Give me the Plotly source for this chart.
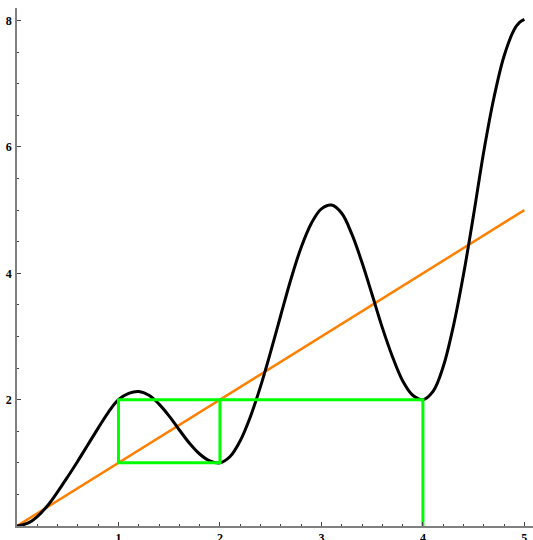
import plotly.graph_objects as go

# black curve, points
curve_x = [0.0, 0.1, 0.2, 0.3, 0.4, 0.5, 0.6, 0.7, 0.8, 0.9,
           1.0, 1.1, 1.2, 1.3, 1.4, 1.5, 1.6, 1.7, 1.8, 1.9,
           2.0, 2.1, 2.2, 2.3, 2.4, 2.5, 2.6, 2.7, 2.8, 2.9,
           3.0, 3.1, 3.2, 3.3, 3.4, 3.5, 3.6, 3.7, 3.8, 3.9,
           4.0, 4.1, 4.2, 4.3, 4.4, 4.5, 4.6, 4.7, 4.8, 4.9, 4.95, 5.0]
curve_y = [0.0, 0.04, 0.15, 0.32, 0.54, 0.78, 1.03, 1.29, 1.55, 1.80,
           2.0, 2.10, 2.13, 2.07, 1.93, 1.74, 1.52, 1.31, 1.14, 1.03,
           1.0, 1.10, 1.35, 1.73, 2.21, 2.76, 3.34, 3.91, 4.41, 4.79,
           5.02, 5.08, 4.95, 4.62, 4.17, 3.66, 3.14, 2.68, 2.30, 2.07,
           2.0, 2.13, 2.52, 3.16, 3.98, 4.93, 5.93, 6.78, 7.44, 7.86, 7.97, 8.02]

# orange diagonal y = x
diag_x = [0, 5]
diag_y = [0, 5]

# green cobweb path
web_x = [4, 4, 2, 2, 1, 1, 2]
web_y = [0, 2, 2, 1, 1, 2, 2]

x_ticks = [1, 2, 3, 4, 5]
y_ticks = [2, 4, 6, 8]

fig = go.Figure()
fig.add_trace(go.Scatter(x=diag_x, y=diag_y, mode="lines",
                         line=dict(color="#FF8000", width=2.5)))
fig.add_trace(go.Scatter(x=curve_x, y=curve_y, mode="lines",
                         line=dict(color="black", width=3, shape="spline", smoothing=1.0)))
fig.add_trace(go.Scatter(x=web_x, y=web_y, mode="lines",
                         line=dict(color="#00FF00", width=3)))

tickfont = dict(family="Liberation Serif", size=12, color="black", weight="bold")
fig.update_layout(
    width=533, height=540,
    margin=dict(l=17, r=0, t=8, b=14),
    paper_bgcolor="white", plot_bgcolor="white",
    showlegend=False,
    xaxis=dict(range=[0, 5.085], tickvals=x_ticks, showgrid=False, zeroline=False,
               showline=True, linecolor="#808080", linewidth=1.5, automargin=False,
               ticks="inside", ticklen=4, tickcolor="#444", tickwidth=1,
               minor=dict(dtick=0.2, ticks="inside", ticklen=2, tickcolor="#444", showgrid=False),
               tickfont=tickfont, ticklabelstandoff=0),
    yaxis=dict(range=[0, 8.2], tickvals=y_ticks, showgrid=False, zeroline=False,
               showline=True, linecolor="#808080", linewidth=1.5, automargin=False,
               ticks="inside", ticklen=4, tickcolor="#444", tickwidth=1,
               minor=dict(dtick=0.5, ticks="inside", ticklen=2, tickcolor="#444", showgrid=False),
               tickfont=tickfont, ticklabelstandoff=1),
)

fig.write_html("out.html")
